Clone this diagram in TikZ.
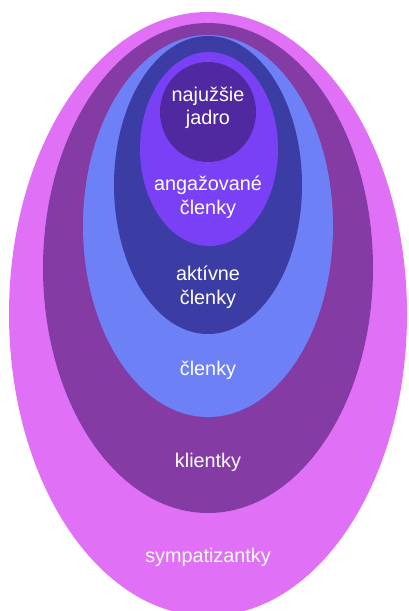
\documentclass[tikz,border=0pt]{standalone}
\usepackage{fontspec}
\setmainfont{Liberation Sans}
\definecolor{sympa}{HTML}{E070F5}
\definecolor{klient}{HTML}{843CA4}
\definecolor{clen}{HTML}{6E80F5}
\definecolor{aktiv}{HTML}{3C3CA5}
\definecolor{angaz}{HTML}{7A40F6}
\definecolor{jadro}{HTML}{5028A0}

\begin{document}
\begin{tikzpicture}[x=1pt,y=-1pt,
	lbl/.style={text=white,align=center,font=\fontsize{19.8}{23.5}\selectfont}]
	\useasboundingbox (0,0) rectangle (408,611);
	% vrstvy od vonkajsej po vnutornu
	\fill[sympa] (208,314) ellipse (199pt and 302pt);
	\fill[klient] (208,268) ellipse (165pt and 245pt);
	\fill[clen] (208,226) ellipse (125pt and 191pt);
	\fill[aktiv] (208,185) ellipse (94pt and 149pt);
	\fill[angaz] (209,149) ellipse (69pt and 97pt);
	\fill[jadro] (208,112) ellipse (48pt and 50pt);
	% popisy
	\node[lbl] (najuzsie) at (208,108) {najužšie\\jadro};
	\node[lbl] (angazovane) at (208,197.5) {angažované\\členky};
	\node[lbl] (aktivne) at (208,287.5) {aktívne\\členky};
	\node[lbl] (clenky) at (208,370) {členky};
	\node[lbl] (klientky) at (208,462) {klientky};
	\node[lbl] (sympatizantky) at (208,557) {sympatizantky};
\end{tikzpicture}
\end{document}
